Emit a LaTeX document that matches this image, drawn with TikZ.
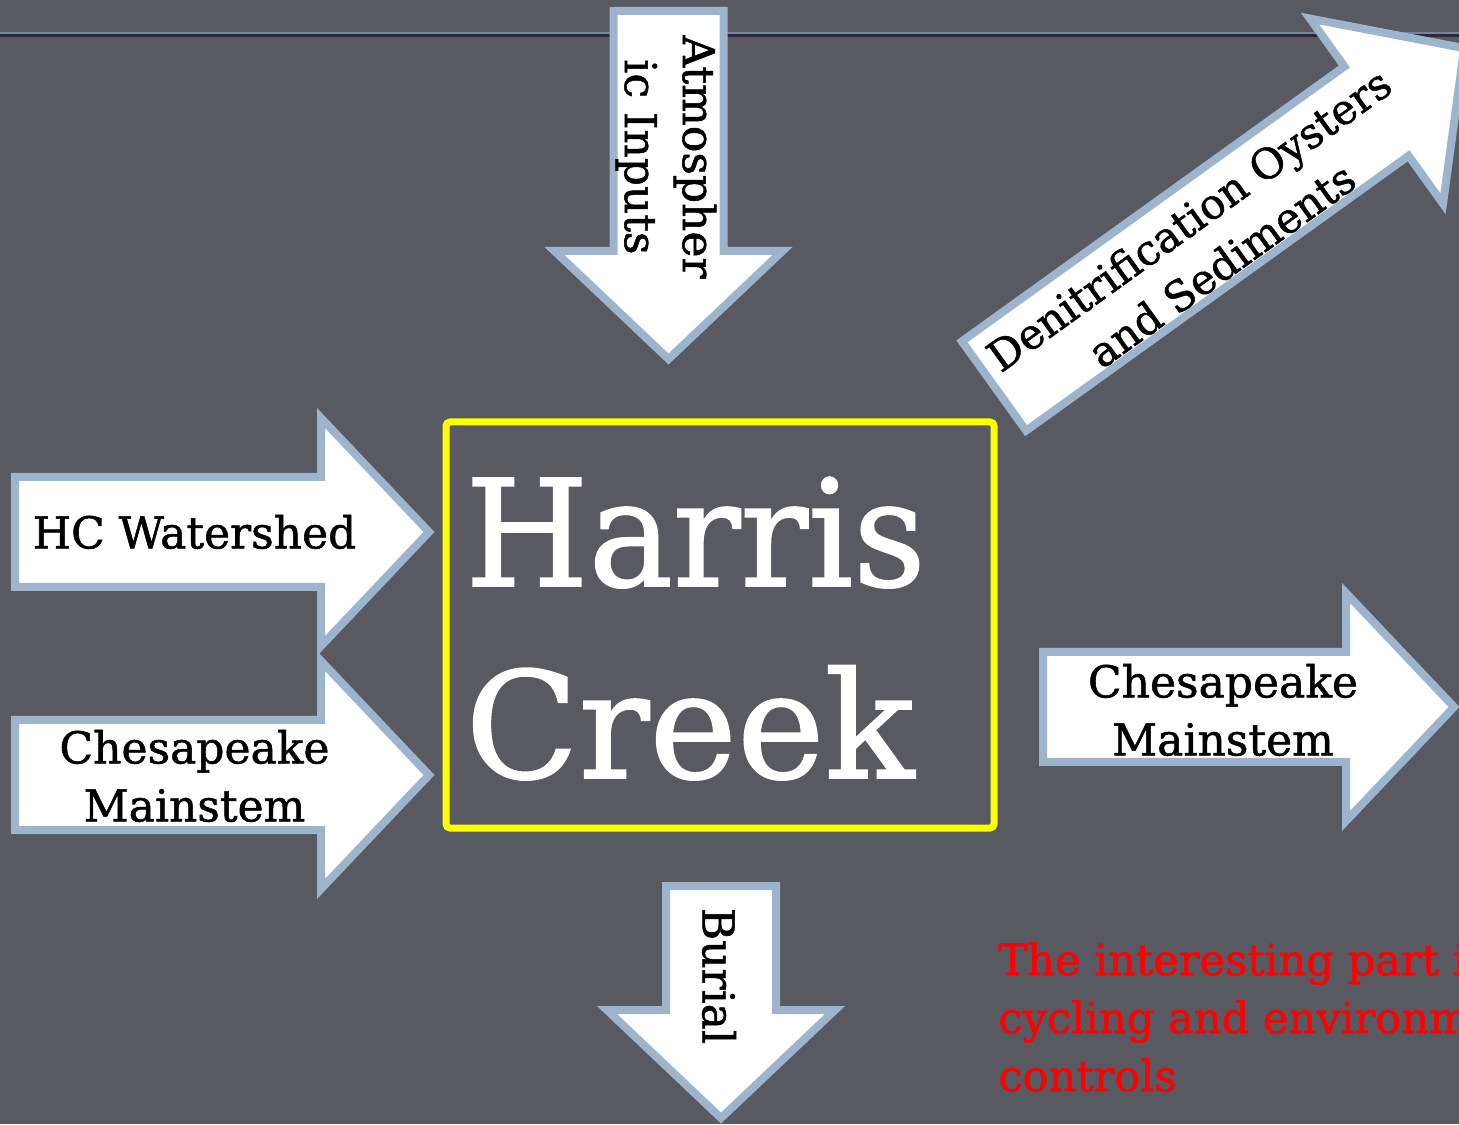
\documentclass[tikz,border=0pt]{standalone}
\usepackage{fontspec}
\setmainfont{DejaVu Serif}
\newfontfamily\slabfont{DejaVu Serif}[FakeBold=1.2]
\definecolor{SlideGrey}{RGB}{89,90,97}
\definecolor{FluxBlue}{RGB}{157,181,204}
\definecolor{RuleBlue}{RGB}{118,128,168}
\definecolor{RuleShadow}{RGB}{42,42,48}
\definecolor{NoteRed}{RGB}{255,0,0}
\definecolor{FrameYellow}{RGB}{255,255,0}

\begin{document}
\begin{tikzpicture}[x=0.5pt,y=0.5pt,
  fluxbox/.style={draw=FluxBlue,fill=white,line width=4pt,line join=miter},
  lbl/.style={font=\slabfont\fontsize{22}{29}\selectfont,align=center,inner sep=0pt},
  big/.style={font=\slabfont\fontsize{74}{96}\selectfont,text=white,inner sep=0pt,anchor=base west},
  pics/flux/.style={code={
    \draw[fluxbox] (0,-55) -- ({#1-108},-55) -- ({#1-108},-114) -- (#1,0)
      -- ({#1-108},114) -- ({#1-108},55) -- (0,55) -- cycle;}}]
\clip (0,0) rectangle (1459,1124);
\fill[SlideGrey] (0,0) rectangle (1459,1124);
\draw[RuleShadow,line width=1.2pt] (0,1088.5) -- (1459,1088.5);
\draw[RuleBlue,line width=1.2pt] (0,1091) -- (1459,1091);
% flux arrows: tail x/tail y/angle/length
\foreach \px/\py/\ang/\len in %
{15/592/0/414,15/349/0/414,1043/417/0/411,668.5/1113/-90/348,721/238/-90/232,994/738/35.7/579} {
   \pic[rotate=\ang] at (\px,\py) {flux=\len};
}
\draw[FrameYellow,line width=3.5pt,rounded corners=2pt] (446,296) rectangle (994,702);
\node[big,xscale=0.955] (harris) at (465,538) {Harris};
\node[big] (creek) at (465,346) {Creek};
\node[lbl] (watershed) at (194.5,592) {HC Watershed};
\node[lbl] (mainin) at (194.5,348) {Chesapeake\\Mainstem};
\node[lbl] (mainout) at (1223,414) {Chesapeake\\Mainstem};
\node[lbl,rotate=-90] (atmos) at (666,967) {Atmospher\\ic Inputs};
\node[lbl,rotate=-90] (burial) at (719,148) {Burial};
\node[lbl,font=\slabfont\fontsize{21}{28}\selectfont,rotate=35.7] (denit) at (1205,882)
   {Denitrification Oysters\\and Sediments};
\node[lbl,font=\slabfont\fontsize{21.6}{29}\selectfont,text=NoteRed,align=left,anchor=north west]
   (note) at (998,182) {The interesting part is the\\cycling and environmental\\controls};
\end{tikzpicture}
\end{document}
